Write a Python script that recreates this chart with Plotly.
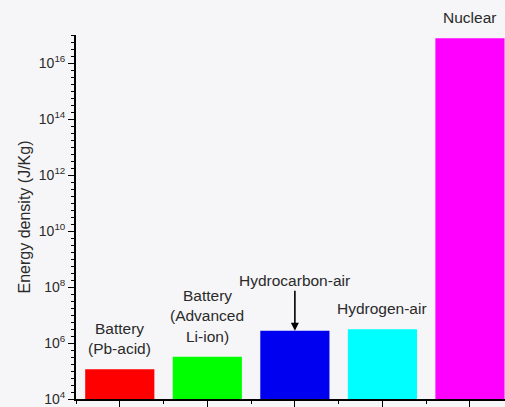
import math
import plotly.graph_objects as go

categories = ["Battery (Pb-acid)", "Battery (Advanced Li-ion)", "Hydrocarbon-air", "Hydrogen-air", "Nuclear"]
energy_density = [1.15e5, 3.2e5, 2.75e6, 3.1e6, 7.6e16]
bar_colors = ["#ff0000", "#00ff00", "#0000f0", "#00ffff", "#ff00ff"]
label_lines = [["Battery", "(Pb-acid)"], ["Battery", "(Advanced", "Li-ion)"], [], ["Hydrogen-air"], ["Nuclear"]]
arrow_label = "Hydrocarbon-air"
ytick_exponents = [4, 6, 8, 10, 12, 14, 16]
ytick_labels = ["10<sup>%d</sup>" % e for e in ytick_exponents]

x_idx = list(range(len(categories)))
bg = "#f6f6f8"
font_family = "Liberation Sans, Arial, sans-serif"
txt_color = "#2a2a2a"
lab_size = 15.5

fig = go.Figure()
fig.add_trace(go.Bar(
    x=x_idx, y=energy_density, width=0.79,
    marker=dict(color=bar_colors, line=dict(width=0)),
    hovertext=categories, showlegend=False,
))
fig.add_trace(go.Scatter(x=[x_idx[0]], y=[energy_density[0]], yaxis="y2",
                         mode="markers", marker=dict(opacity=0), showlegend=False, hoverinfo="skip"))

annotations = []
for i, lines in enumerate(label_lines):
    n = len(lines)
    for k, line in enumerate(lines):
        annotations.append(dict(
            x=i, y=math.log10(energy_density[i]), xref="x", yref="y",
            text=line, showarrow=False, yanchor="middle",
            yshift=20.5 * (n - k), font=dict(size=lab_size, color=txt_color, family=font_family),
        ))
annotations.append(dict(
    x=2, y=math.log10(energy_density[2]), xref="x", yref="y",
    text=arrow_label, showarrow=True, ax=0, ay=-50,
    arrowhead=2, arrowsize=1, arrowwidth=1.6, arrowcolor="#000000", standoff=0,
    font=dict(size=lab_size, color=txt_color, family=font_family),
))

fig.update_layout(
    width=505, height=407,
    margin=dict(l=76, r=0, t=35, b=8, autoexpand=False),
    paper_bgcolor=bg, plot_bgcolor=bg,
    font=dict(family=font_family, color=txt_color),
    annotations=annotations,
    xaxis=dict(
        range=[-0.5, 4.4], tickvals=x_idx, ticktext=categories, showticklabels=False,
        showgrid=False, zeroline=False, showline=True, linecolor="#000", linewidth=1.8,
        ticks="outside", ticklen=6, tickwidth=1.3, tickcolor="#000",
        minor=dict(tick0=0.5, dtick=1, ticks="outside", ticklen=3, tickwidth=1.2, tickcolor="#000"),
        automargin=False,
    ),
    yaxis=dict(
        type="log", range=[4, 17],
        tickvals=[10 ** e for e in ytick_exponents], ticktext=ytick_labels,
        showgrid=False, zeroline=False, showline=True, linecolor="#000", linewidth=1.8,
        ticks="outside", ticklen=6, tickwidth=1.3, tickcolor="#000",
        tickfont=dict(size=14, color=txt_color, family=font_family),
        minor=dict(tick0=0, dtick=0.25, ticks="outside", ticklen=3, tickwidth=1, tickcolor="#000"),
        title=dict(text="Energy density (J/Kg)", font=dict(size=16, color=txt_color, family=font_family), standoff=4),
        automargin=False,
    ),
    yaxis2=dict(
        type="log", range=[4, 17], overlaying="y", side="left",
        dtick=1, tick0=0, ticks="outside", ticklen=4.5, tickwidth=1.1, tickcolor="#000",
        showticklabels=False, showgrid=False, zeroline=False, showline=False,
        automargin=False,
    ),
)

fig.write_html("out.html", config={"displayModeBar": False},
               post_script="document.body.style.margin='0';document.body.style.overflow='hidden';")
